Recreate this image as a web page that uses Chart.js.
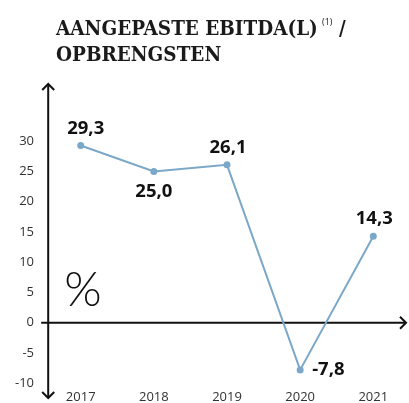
<!DOCTYPE html>
<html>
<head>
<meta charset="utf-8">
<script src="https://cdn.jsdelivr.net/npm/chart.js@4.4.1/dist/chart.umd.min.js"></script>
<style>
  html, body { margin: 0; padding: 0; background: #fff; }
  #wrap { position: relative; width: 409px; height: 403px; }
</style>
</head>
<body>
<div id="wrap"><canvas id="ebitdaChart" width="409" height="403"></canvas></div>
<script>
/* ── DATA ───────────────────────────────────────────────────── */
const jaren      = ['2017', '2018', '2019', '2020', '2021'];
const ebitdaPct  = [29.3, 25.0, 26.1, -7.8, 14.3];
const yTicks     = [-10, -5, 0, 5, 10, 15, 20, 25, 30];
const titelRegel1 = 'AANGEPASTE EBITDA(L)';
const titelNoot   = '(1)';
const titelRegel2 = 'OPBRENGSTEN';
const eenheid     = '%';

// where each value label sits relative to its point
const labelPos = ['above', 'below', 'above', 'right', 'above'];

const LIJN = '#7ba8c8';
const TEKST = '#333333';

function formatPct(v) {
  return v.toFixed(1).replace('.', ',');
}

/* ── TITLE ──────────────────────────────────────────────────── */
const titelPlugin = {
  id: 'titel',
  afterDraw(chart) {
    const ctx = chart.ctx;
    ctx.save();
    ctx.fillStyle = '#1a1a1a';
    ctx.textBaseline = 'alphabetic';
    ctx.textAlign = 'left';
    ctx.font = 'bold 20px "DejaVu Serif Condensed", "DejaVu Serif", serif';
    const w = ctx.measureText(titelRegel1).width;
    const size = 20 * 262 / w;
    const font = `bold ${size.toFixed(2)}px "DejaVu Serif Condensed", "DejaVu Serif", serif`;
    ctx.font = font;
    ctx.fillText(titelRegel1, 56, 35);
    ctx.fillText(titelRegel2, 56, 61);
    // footnote + slash
    ctx.font = '9px "Open Sans", sans-serif';
    ctx.fillText(titelNoot, 322, 25);
    ctx.font = font;
    ctx.fillText('/', 339, 35);
    ctx.restore();
  }
};

/* ── AXES WITH ARROWS ───────────────────────────────────────── */
function pijl(ctx, x, y, dir) {
  const s = 6;
  ctx.beginPath();
  if (dir === 'up')    { ctx.moveTo(x - s, y + s); ctx.lineTo(x, y); ctx.lineTo(x + s, y + s); }
  if (dir === 'down')  { ctx.moveTo(x - s, y - s); ctx.lineTo(x, y); ctx.lineTo(x + s, y - s); }
  if (dir === 'right') { ctx.moveTo(x - s, y - s); ctx.lineTo(x, y); ctx.lineTo(x - s, y + s); }
  ctx.stroke();
}

const assenPlugin = {
  id: 'assen',
  beforeDatasetsDraw(chart) {
    const { ctx, chartArea, scales } = chart;
    const x0 = chartArea.left - 32.5;
    const y0 = scales.y.getPixelForValue(0);
    ctx.save();
    ctx.strokeStyle = '#111';
    ctx.lineWidth = 2;
    ctx.lineCap = 'butt';
    // y axis
    ctx.beginPath();
    ctx.moveTo(x0, 84);
    ctx.lineTo(x0, 398);
    ctx.stroke();
    pijl(ctx, x0, 84, 'up');
    pijl(ctx, x0, 398, 'down');
    // x axis at zero
    ctx.beginPath();
    ctx.moveTo(x0 - 7, y0);
    ctx.lineTo(406, y0);
    ctx.stroke();
    pijl(ctx, 406, y0, 'right');
    // unit sign
    ctx.fillStyle = '#111';
    ctx.font = '300 48px Lato, "Open Sans", sans-serif';
    ctx.textAlign = 'center';
    ctx.textBaseline = 'alphabetic';
    ctx.fillText(eenheid, 83, 306);
    ctx.restore();
  }
};

/* ── VALUE LABELS ───────────────────────────────────────────── */
const waardenPlugin = {
  id: 'waarden',
  afterDatasetsDraw(chart) {
    const ctx = chart.ctx;
    const meta = chart.getDatasetMeta(0);
    ctx.save();
    ctx.fillStyle = '#111';
    ctx.font = 'bold 18.5px "Open Sans", sans-serif';
    ctx.textBaseline = 'middle';
    meta.data.forEach((pt, i) => {
      const txt = formatPct(ebitdaPct[i]);
      const pos = labelPos[i];
      if (pos === 'right') {
        ctx.textAlign = 'left';
        ctx.fillText(txt, pt.x + 12, pt.y);
      } else if (pos === 'below') {
        ctx.textAlign = 'center';
        ctx.fillText(txt, pt.x, pt.y + 20);
      } else {
        ctx.textAlign = 'center';
        ctx.fillText(txt, pt.x + (i === 0 ? 5 : 1), pt.y - 17);
      }
    });
    ctx.restore();
  }
};

/* ── CHART ──────────────────────────────────────────────────── */
Chart.defaults.font.family = '"Open Sans", sans-serif';
Chart.defaults.color = TEKST;

new Chart(document.getElementById('ebitdaChart'), {
  type: 'line',
  data: {
    labels: jaren,
    datasets: [{
      data: ebitdaPct,
      borderColor: LIJN,
      backgroundColor: LIJN,
      borderWidth: 2,
      pointRadius: 3.5,
      pointBackgroundColor: LIJN,
      pointBorderWidth: 0,
      tension: 0,
      clip: false,
    }],
  },
  options: {
    responsive: false,
    animation: false,
    devicePixelRatio: 1,
    layout: { padding: { left: 0, right: 35.7, top: 141.2, bottom: 0 } },
    plugins: {
      legend: { display: false },
      tooltip: { enabled: false },
    },
    scales: {
      x: {
        offset: false,
        grid: { display: false, drawTicks: false },
        border: { display: false },
        ticks: { font: { size: 13 }, color: TEKST, padding: 6, maxRotation: 0 },
        afterFit: s => { s.height = 19.8; },
      },
      y: {
        min: yTicks[0],
        max: yTicks[yTicks.length - 1],
        grid: { display: false, drawTicks: false },
        border: { display: false },
        ticks: { font: { size: 13 }, color: TEKST, padding: 46.7 },
        afterBuildTicks: s => { s.ticks = yTicks.map(v => ({ value: v })); },
        afterFit: s => {
          s.width = 80.7;
          // the big tick padding must not grow the vertical margins
          s.paddingTop = 0;
          s.paddingBottom = 0;
        },
      },
    },
  },
  plugins: [titelPlugin, assenPlugin, waardenPlugin],
});
</script>
</body>
</html>
